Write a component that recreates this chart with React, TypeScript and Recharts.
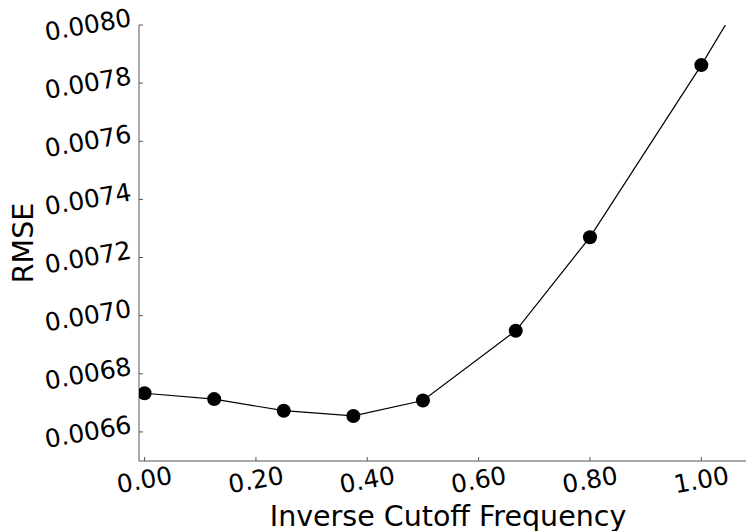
import React from 'react';
import { LineChart, Line, XAxis, YAxis } from 'recharts';

// Inverse cutoff frequency values and the RMSE measured at each one
const cutoffs = [0, 0.125, 0.25, 0.375, 0.5, 0.6667, 0.8, 1.0, 1.25];
const rmse = [0.006733, 0.006713, 0.006673, 0.006655, 0.006708, 0.006948, 0.00727, 0.007862, 0.00866];

const xTicks = [0, 0.2, 0.4, 0.6, 0.8, 1.0];
const yTicks = [0.0066, 0.0068, 0.007, 0.0072, 0.0074, 0.0076, 0.0078, 0.008];

const data = cutoffs.map((x, i) => ({ x, y: rmse[i] }));

const FONT = 'DejaVu Sans';
const SPINE = '#555';

const BottomTick = (props: any) => {
  const { x, y, payload } = props;
  const cy = y + 19;
  return (
    <g>
      <line x1={x} y1={y} x2={x} y2={y - 4} stroke={SPINE} strokeWidth={1} />
      <text
        x={x}
        y={cy}
        textAnchor="middle"
        dominantBaseline="central"
        transform={`rotate(-10, ${x}, ${cy})`}
        fontSize={25}
        fontFamily={FONT}
        fill="#000"
      >
        {Number(payload.value).toFixed(2)}
      </text>
    </g>
  );
};

const TopTick = (props: any) => {
  const { x, y } = props;
  return <line x1={x} y1={y} x2={x} y2={y + 4} stroke="#000" strokeWidth={1} />;
};

const LeftTick = (props: any) => {
  const { x, y, payload } = props;
  const cx = x - 51;
  return (
    <g>
      <line x1={x} y1={y} x2={x + 4} y2={y} stroke={SPINE} strokeWidth={1} />
      <text
        x={cx}
        y={y}
        textAnchor="middle"
        dominantBaseline="central"
        transform={`rotate(-10, ${cx}, ${y})`}
        fontSize={25}
        fontFamily={FONT}
        fill="#000"
      >
        {Number(payload.value).toFixed(4)}
      </text>
    </g>
  );
};

const XTitle = (props: any) => {
  const vb = props.viewBox || {};
  return (
    <text
      x={vb.x + vb.width / 2}
      y={vb.y + 65}
      textAnchor="middle"
      fontSize={28.5}
      fontFamily={FONT}
      fill="#000"
    >
      Inverse Cutoff Frequency
    </text>
  );
};

const YTitle = () => (
  <text
    x={33}
    y={243}
    textAnchor="middle"
    transform="rotate(-90, 33, 243)"
    fontSize={28.5}
    fontFamily={FONT}
    fill="#000"
  >
    RMSE
  </text>
);

export default function App() {
  return (
    <div
      style={{
        position: 'fixed',
        left: 0,
        top: 0,
        width: 746,
        height: 531,
        overflow: 'hidden',
        background: '#fff',
      }}
    >
      <LineChart
        width={770}
        height={540}
        data={data}
        margin={{ top: 25, right: 13, bottom: 0, left: 0 }}
      >
        <XAxis
          dataKey="x"
          type="number"
          domain={[-0.01, 1.1]}
          allowDataOverflow
          ticks={xTicks}
          interval={0}
          height={79}
          tickSize={0}
          tickMargin={0}
          tickLine={false}
          axisLine={{ stroke: SPINE, strokeWidth: 1 }}
          tick={<BottomTick />}
          label={<XTitle />}
        />
        <XAxis
          xAxisId="top"
          orientation="top"
          dataKey="x"
          type="number"
          domain={[-0.01, 1.1]}
          allowDataOverflow
          ticks={xTicks}
          interval={0}
          height={0}
          tickSize={0}
          tickMargin={0}
          tickLine={false}
          axisLine={{ stroke: '#000', strokeWidth: 1 }}
          tick={<TopTick />}
        />
        <YAxis
          type="number"
          domain={[0.0065, 0.008]}
          allowDataOverflow
          ticks={yTicks}
          interval={0}
          width={139}
          tickSize={0}
          tickMargin={0}
          tickLine={false}
          axisLine={{ stroke: SPINE, strokeWidth: 1 }}
          tick={<LeftTick />}
          label={<YTitle />}
        />
        <Line
          dataKey="y"
          stroke="#000"
          strokeWidth={1.2}
          isAnimationActive={false}
          dot={{ r: 7, fill: '#000', stroke: '#000', strokeWidth: 0 }}
          activeDot={false}
        />
      </LineChart>
    </div>
  );
}
